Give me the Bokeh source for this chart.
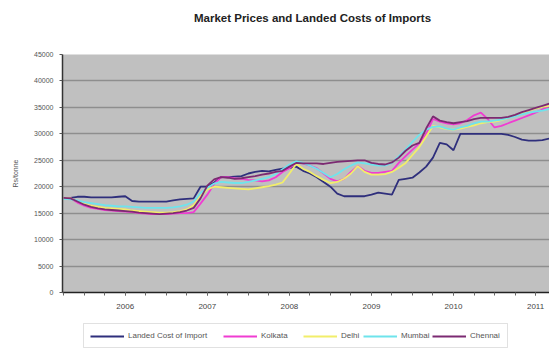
from bokeh.plotting import figure
from bokeh.layouts import column
from bokeh.models import Range1d, FixedTicker, Legend, LegendItem, Label, BoxAnnotation
from bokeh.embed import file_html
from bokeh.resources import INLINE

# Monthly series, April 2005 .. March 2011 (Rs/tonne)
start_year, start_month = 2005, 4
landed_cost = [
    17900, 17900, 18100, 18100, 18000, 18000, 18000, 18000, 18100,
    18200, 17300, 17200, 17200, 17200, 17200, 17200, 17400, 17600, 17700, 17800, 20000,
    20000, 20800, 21800, 21800, 21900, 22000, 22500, 22800, 23000, 22900, 23200, 23400,
    23500, 23800, 23000, 22500, 21800, 20900, 20000, 18700, 18200, 18200, 18200, 18200,
    18500, 18900, 18700, 18500, 21300, 21500, 21700, 22700, 23800, 25500, 28300, 28000,
    26900, 30000, 30000, 30000, 30000, 30000, 30000, 30000, 29800, 29400, 28900, 28700,
    28700, 28800, 29100,
]
kolkata = [
    17900, 17800, 17000, 16400, 16000, 15800, 15600, 15500, 15400,
    15300, 15200, 15000, 14900, 14800, 14800, 14800, 14900, 15000, 15000, 15200, 16800,
    18500, 20500, 21800, 21800, 21600, 21500, 21300, 21200, 21000, 21200, 21800, 22800,
    23500, 24600, 24400, 24000, 23500, 22500, 21500, 21000, 21500, 22800, 23900, 23000,
    22600, 22600, 22800, 23000, 24500, 25800, 27000, 28200, 30000, 32800, 32300, 32000,
    31800, 32000, 32600, 33500, 34000, 32800, 31200, 31500, 32000, 32500, 33000, 33500,
    34000, 34600, 35300,
]
delhi = [
    17900, 17800, 17300, 16800, 16400, 16200, 16000, 15900, 15800,
    15700, 15500, 15400, 15300, 15200, 15100, 15100, 15200, 15400, 15700, 16500, 18200,
    19500, 20000, 19900, 19800, 19700, 19600, 19500, 19700, 19900, 20100, 20400, 20800,
    22500, 24300, 23400, 22800, 22000, 21300, 20700, 20900, 21500, 22500, 23900, 22800,
    22300, 22300, 22400, 22800, 23600, 24500, 26000, 27500, 29500, 31500, 31200, 30900,
    30800, 31000, 31300, 31600, 32000, 32200, 32300, 32600, 33000, 33500, 34000, 34400,
    34800, 35100, 35300,
]
mumbai = [
    17700, 17600, 17400, 17100, 16900, 16700, 16500, 16400, 16300,
    16300, 16200, 16100, 16000, 16000, 16000, 16000, 16100, 16300, 16600, 17200, 18800,
    19800, 20600, 20900, 20800, 20700, 20700, 20900, 21200, 21500, 21800, 22400, 23300,
    24200, 24800, 24500, 24000, 23400, 22600, 21800, 22400, 23300, 24000, 24600, 24400,
    24200, 24000, 24000, 24500, 25800, 27000, 28500, 29800, 30800, 31300, 31400, 31000,
    30800, 31200, 31500, 32000, 32300, 32300, 32500, 32700, 33000, 33300, 33700, 34000,
    34200, 34400, 34700,
]
chennai = [
    17900, 17800, 17200, 16600, 16200, 15900, 15700, 15600, 15500,
    15400, 15300, 15100, 15000, 14900, 14800, 14900, 15000, 15200, 15500, 16000, 17800,
    20200, 21400, 21800, 21700, 21500, 21600, 21800, 22000, 22300, 22500, 22800, 23000,
    23800, 24500, 24400, 24400, 24400, 24300, 24500, 24700, 24800, 24900, 25000, 25000,
    24500, 24300, 24200, 24600, 25500, 26800, 27800, 28300, 31000, 33300, 32500, 32200,
    32000, 32200, 32400, 32800, 33000, 33000, 33000, 33000, 33200, 33600, 34100, 34500,
    34900, 35300, 35700,
]

series_names = ["Landed Cost of Import", "Kolkata", "Delhi", "Mumbai", "Chennai"]
series_colors = ["#2f2f7c", "#f03cd2", "#f2ee6a", "#6ee4ec", "#7c2a72"]

year_ticks = [2006, 2007, 2008, 2009, 2010, 2011]
year_labels = ["2006", "2007", "2008", "2009", "2010", "2011"]
y_ticks = [0, 5000, 10000, 15000, 20000, 25000, 30000, 35000, 40000, 45000]
y_labels = ["0", "5000", "10000", "15000", "20000", "25000", "30000", "35000", "40000", "45000"]

chart_title = "Market Prices and Landed Costs of Imports"

# fractional-year position of each month
months = [start_year + (start_month - 1 + i) / 12 for i in range(len(landed_cost))]
all_series = [landed_cost, kolkata, delhi, mumbai, chennai]

W = 549
LEFT = 62  # width of the value-axis gutter; the column layout aligns all frames to it


def strip(height):
    """Axis-less strip whose data units equal page pixels (x from page left, y from strip top)."""
    f = figure(width=W, height=height, output_backend="svg", toolbar_location=None,
               x_range=Range1d(LEFT, W), y_range=Range1d(height, 0),
               min_border_left=LEFT, min_border_right=0, min_border_top=0, min_border_bottom=0)
    f.axis.visible = False
    f.grid.visible = False
    f.outline_line_color = None
    f.background_fill_color = "white"
    f.border_fill_color = "white"
    return f


# ---- title strip
head = strip(30)
head.add_layout(Label(x=312, y=17, text=chart_title, text_align="center",
                      text_baseline="middle", text_font="Liberation Sans",
                      text_font_size="11.5px", text_font_style="bold",
                      text_color="#222222"))

# ---- main chart
p = figure(
    width=W, height=288,
    output_backend="svg", toolbar_location=None,
    x_range=Range1d(2005.235, 2011.17), y_range=Range1d(0, 45000),
    min_border_left=LEFT, min_border_right=0, min_border_top=24, min_border_bottom=26,
)
p.background_fill_color = "#c0c0c0"
p.border_fill_color = "white"
p.outline_line_color = None

p.xgrid.grid_line_color = None
p.ygrid.ticker = FixedTicker(ticks=y_ticks)
p.ygrid.grid_line_color = "#8e8e8e"
p.ygrid.grid_line_width = 1.5

p.yaxis.ticker = FixedTicker(ticks=y_ticks)
p.yaxis.major_label_overrides = dict(zip(y_ticks, y_labels))
p.yaxis.major_label_text_font = "Liberation Sans"
p.yaxis.major_label_text_font_size = "7px"
p.yaxis.major_label_text_color = "#555555"
p.yaxis.axis_line_color = "#333333"
p.yaxis.axis_line_width = 1.5
p.yaxis.major_tick_out = 3
p.yaxis.major_tick_in = 0
p.yaxis.major_tick_line_color = "#555555"
p.yaxis.minor_tick_line_color = None
p.yaxis.major_label_standoff = 6
p.yaxis.axis_label = "Rs/tonne"
p.yaxis.axis_label_text_font = "Liberation Sans"
p.yaxis.axis_label_text_font_size = "7px"
p.yaxis.axis_label_text_font_style = "normal"
p.yaxis.axis_label_text_color = "#555555"
p.yaxis.axis_label_standoff = 12

quarters = [y + q / 4 for y in range(2005, 2012) for q in range(4)]
p.xaxis.ticker = FixedTicker(ticks=year_ticks, minor_ticks=quarters)
p.xaxis.major_label_overrides = dict(zip(year_ticks, year_labels))
p.xaxis.major_label_text_font = "Liberation Sans"
p.xaxis.major_label_text_font_size = "8px"
p.xaxis.major_label_text_color = "#444444"
p.xaxis.axis_line_color = "#222222"
p.xaxis.axis_line_width = 1.5
p.xaxis.major_tick_out = 3
p.xaxis.major_tick_in = 0
p.xaxis.minor_tick_out = 3
p.xaxis.minor_tick_in = 0
p.xaxis.major_tick_line_color = "#666666"
p.xaxis.minor_tick_line_color = "#666666"
p.xaxis.major_label_standoff = 8

for vals, col in zip(all_series, series_colors):
    p.line(months, vals, line_color=col, line_width=1.8)

# ---- legend strip: the same series (outside this strip's view) serve as legend keys
foot = strip(31)
keys = [foot.line(months, vals, line_color=col, line_width=1.8)
        for vals, col in zip(all_series, series_colors)]

foot.add_layout(BoxAnnotation(left=83, right=507, top=5, bottom=29,
                              fill_color="white", fill_alpha=1.0,
                              line_color="#9a9a9a", line_width=1))

key_left = [90, 223, 303, 363, 432]  # page x of each key's line start
for name, r, kx in zip(series_names, keys, key_left):
    foot.add_layout(Legend(
        items=[LegendItem(label=name, renderers=[r])],
        location=(kx - LEFT, 9),
        glyph_width=34, glyph_height=8,
        label_text_font="Liberation Sans", label_text_font_size="8px",
        label_text_color="#555555",
        label_standoff=4, padding=0, margin=0, spacing=0,
        border_line_color=None, background_fill_alpha=0,
        label_height=8,
    ))

layout = column(head, p, foot, spacing=0)
open("out.html", "w").write(file_html(layout, INLINE))
